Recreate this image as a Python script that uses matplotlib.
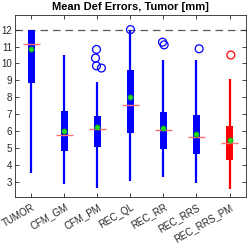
import matplotlib
matplotlib.use("Agg")
import matplotlib.pyplot as plt
import numpy as np

# box stats
names = ["TUMOR", "CFM_GM", "CFM_PM", "REC_QL", "REC_RR", "REC_RRS", "REC_RRS_PM"]
whis_lo = [3.55, 2.86, 2.63, 3.07, 3.27, 2.92, 2.58]
q1 = [8.87, 4.83, 5.08, 5.87, 4.93, 4.65, 4.28]
med = [11.18, 5.77, 6.13, 7.54, 6.09, 5.64, 5.28]
q3 = [12.0, 7.19, 6.91, 9.61, 7.11, 6.95, 6.30]
whis_hi = [12.0, 10.53, 8.92, 11.95, 10.20, 10.20, 9.10]
means = [10.85, 6.01, 6.24, 8.00, 6.17, 5.83, 5.48]
colors = ["b", "b", "b", "b", "b", "b", "r"]

# outliers: (group index, value, x jitter)
out_grp = [2, 2, 2, 2, 3, 4, 4, 5, 6]
out_val = [10.83, 10.32, 9.86, 9.73, 12.0, 11.26, 11.10, 10.87, 10.50]
out_jit = [-0.03, -0.06, -0.03, 0.12, 0.0, -0.03, 0.02, 0.08, 0.04]

plt.rcParams['font.family'] = ['Liberation Sans', 'DejaVu Sans']

fig = plt.figure(figsize=(2.49, 2.43), dpi=100)
ax = fig.add_axes([0.060, 0.189, 0.928, 0.749])

x = np.arange(1, len(names) + 1)

ax.axhline(12, color="0.35", lw=0.9, ls=(0, (6, 4)), zorder=1)

ax.vlines(x, whis_lo, whis_hi, colors=colors, lw=1.6, zorder=2)
ax.bar(x, np.array(q3) - np.array(q1), bottom=q1, width=0.21,
       color=colors, edgecolor="none", zorder=3)
ax.hlines(med, x - 0.27, x + 0.27, colors="#ff7070", lw=1.0, zorder=4)
ax.scatter(x, means, s=14, c="#22dd22", edgecolors="#119911", lw=0.5, zorder=5)

ox = np.array(out_grp) + 1 + np.array(out_jit)
ax.scatter(ox, out_val, s=32, facecolors="none",
           edgecolors=[colors[g] for g in out_grp], lw=0.9, zorder=5)

ax.set_xlim(0.5, 7.5)
ax.set_ylim(2.11, 12.86)
ax.set_yticks(range(3, 13))
ax.set_xticks(x)
ax.set_xticklabels(names, rotation=30, ha="right", va="top",
                   rotation_mode="anchor")
ax.tick_params(direction="in", length=3, width=0.6, labelsize=7,
               top=True, right=True, colors="0.15", pad=2)
ax.tick_params(axis="x", pad=3.5)
for s in ax.spines.values():
    s.set_linewidth(0.6)
    s.set_color("0.15")

ax.set_title("Mean Def Errors, Tumor [mm]", fontsize=8, fontweight="bold", pad=4)

fig.savefig("out.png", dpi=100)
